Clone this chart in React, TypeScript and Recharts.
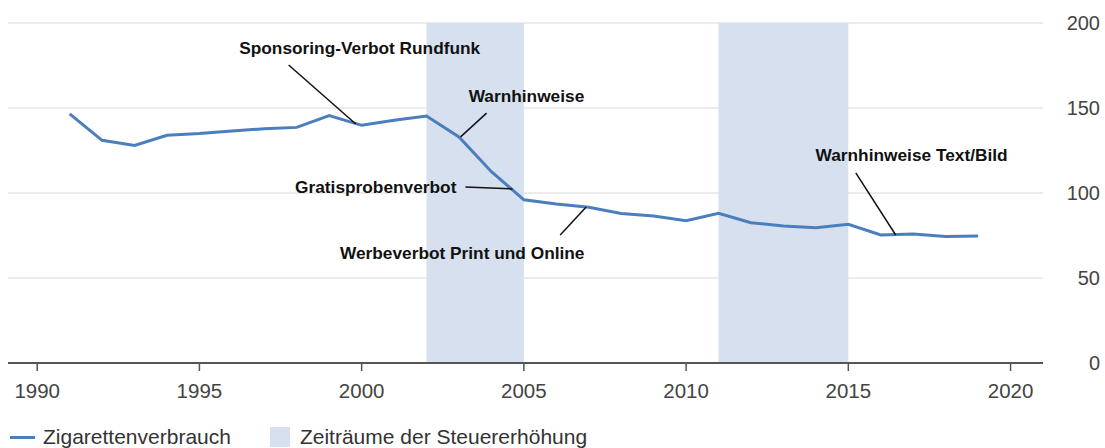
import React from 'react';
import {
  LineChart,
  Line,
  XAxis,
  YAxis,
  CartesianGrid,
  ReferenceArea,
  ReferenceLine,
  ReferenceDot,
} from 'recharts';

const FONT = '"Liberation Sans", Arial, Helvetica, sans-serif';
const LINE_COLOR = '#4a7ebd';
const SHADE_COLOR = '#d6e0ee';

const YEARS = [
  1991, 1992, 1993, 1994, 1995, 1996, 1997, 1998, 1999, 2000,
  2001, 2002, 2003, 2004, 2005, 2006, 2007, 2008, 2009, 2010,
  2011, 2012, 2013, 2014, 2015, 2016, 2017, 2018, 2019,
];
const CONSUMPTION = [
  146.5, 131, 128, 134, 135, 136.5, 137.8, 138.6, 145.5, 139.8,
  142.8, 145.3, 133, 112.5, 96, 93.5, 91.6, 88, 86.5, 83.7,
  88, 82.5, 80.6, 79.6, 81.6, 75.3, 75.9, 74.4, 74.7,
];
const TAX_PERIODS: [number, number][] = [
  [2002, 2005],
  [2011, 2015],
];
const X_TICKS = [1990, 1995, 2000, 2005, 2010, 2015, 2020];
const Y_TICKS = [0, 50, 100, 150, 200];

// annotation text anchor + leader line, in data units (year, value)
const NOTES = [
  { text: 'Sponsoring-Verbot Rundfunk', tx: 1999.94, ty: 185.3, anchor: 'middle', from: [1997.75, 175.3], to: [1999.82, 140.6] },
  { text: 'Warnhinweise', tx: 2005.08, ty: 157, anchor: 'middle', from: [2003.85, 147], to: [2003.05, 133] },
  { text: 'Gratisprobenverbot', tx: 2002.92, ty: 103.5, anchor: 'end', from: [2003.2, 103.5], to: [2004.65, 102.4] },
  { text: 'Werbeverbot Print und Online', tx: 2003.1, ty: 64.7, anchor: 'middle', from: [2006.12, 75.3], to: [2006.92, 91.8] },
  { text: 'Warnhinweise Text/Bild', tx: 2016.95, ty: 122.4, anchor: 'middle', from: [2015.23, 111.8], to: [2016.46, 75.3] },
];

const data = YEARS.map((year, i) => ({ year, value: CONSUMPTION[i] }));

function RightTick(props: any) {
  const { y, payload } = props;
  return (
    <text x={1100} y={y} dy="0.355em" textAnchor="end" fill="#444" fontSize={20} fontFamily={FONT}>
      {payload.value}
    </text>
  );
}

export default function App() {
  return (
    <div style={{ position: 'absolute', left: 0, top: 0, width: 1105, height: 448, background: '#fff', fontFamily: FONT }}>
      <LineChart width={1105} height={448} data={data} margin={{ top: 23, right: 0, left: 8, bottom: 55 }}>
        <CartesianGrid vertical={false} stroke="#e6e6e6" strokeWidth={1.5} />
        {TAX_PERIODS.map(([a, b]) => (
          <ReferenceArea key={a} x1={a} x2={b} y1={0} y2={200} fill={SHADE_COLOR} fillOpacity={1} stroke="none" />
        ))}
        <XAxis
          dataKey="year"
          type="number"
          domain={[1989.1, 2021]}
          ticks={X_TICKS}
          allowDataOverflow
          height={30}
          tickSize={8}
          tickMargin={12}
          axisLine={{ stroke: '#555', strokeWidth: 2 }}
          tickLine={{ stroke: '#555', strokeWidth: 1.5 }}
          tick={{ fill: '#444', fontSize: 20.5, fontFamily: FONT }}
        />
        <YAxis
          orientation="right"
          domain={[0, 200]}
          ticks={Y_TICKS}
          width={62}
          axisLine={false}
          tickLine={false}
          tick={<RightTick />}
        />
        <Line
          type="linear"
          dataKey="value"
          stroke={LINE_COLOR}
          strokeWidth={3}
          dot={false}
          isAnimationActive={false}
        />
        {NOTES.map((n) => (
          <ReferenceLine
            key={n.text + '-l'}
            segment={[
              { x: n.from[0], y: n.from[1] },
              { x: n.to[0], y: n.to[1] },
            ]}
            stroke="#111"
            strokeWidth={1.5}
            ifOverflow="visible"
          />
        ))}
        {NOTES.map((n) => (
          <ReferenceDot
            key={n.text}
            x={n.tx}
            y={n.ty}
            r={0}
            ifOverflow="visible"
            shape={(p: any) => (
              <text
                x={p.cx}
                y={p.cy}
                dy="0.355em"
                textAnchor={n.anchor as any}
                fontSize={17.3}
                fontWeight="bold"
                fill="#111"
                fontFamily={FONT}
              >
                {n.text}
              </text>
            )}
          />
        ))}
      </LineChart>
      <div
        style={{
          position: 'absolute',
          left: 0,
          top: 425,
          display: 'flex',
          alignItems: 'center',
          fontSize: 21,
          color: '#333',
          whiteSpace: 'nowrap',
        }}
      >
        <span style={{ display: 'inline-block', width: 25, height: 3, background: LINE_COLOR, marginLeft: 10, marginRight: 8 }} />
        <span>Zigarettenverbrauch</span>
        <span style={{ display: 'inline-block', width: 20, height: 20, background: SHADE_COLOR, marginLeft: 39, marginRight: 10 }} />
        <span>Zeiträume der Steuererhöhung</span>
      </div>
    </div>
  );
}
